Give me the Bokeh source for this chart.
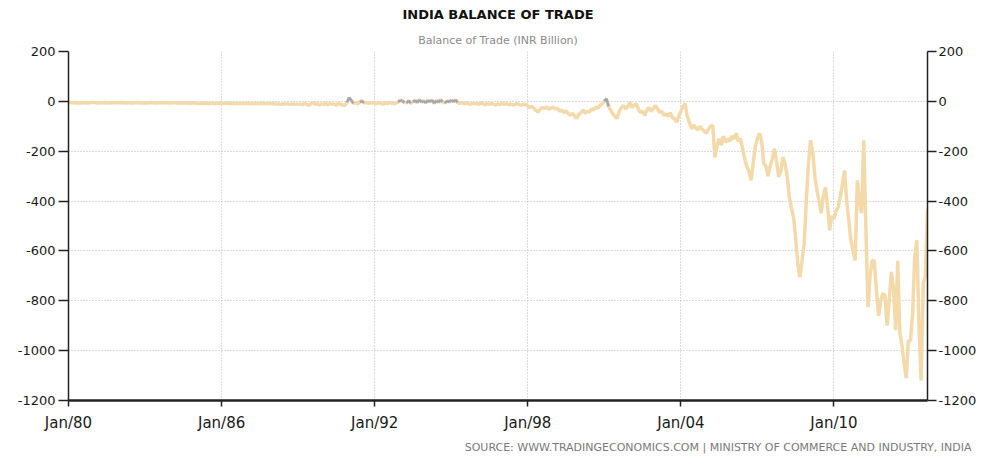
from bokeh.plotting import figure
from bokeh.models import LinearAxis, FixedTicker, Title, Range1d, ColumnDataSource
from bokeh.embed import file_html
from bokeh.resources import INLINE

# ---------------- data (monthly, INR billion, starting Jan 1980) ----------------
start_year = 1980

balance_1980s = [
    -4, -5, -6, -5, -6, -7, -6, -5, -6, -7, -6, -5,
    -5, -6, -7, -6, -6, -5, -6, -7, -6, -6, -5, -6,
    -6, -5, -6, -7, -6, -6, -7, -6, -5, -6, -6, -7,
    -6, -7, -6, -5, -6, -7, -7, -6, -6, -5, -6, -7,
    -7, -6, -6, -7, -8, -6, -7, -6, -7, -8, -7, -6,
    -8, -7, -9, -8, -7, -8, -9, -8, -7, -9, -8, -9,
    -8, -9, -7, -8, -9, -8, -9, -10, -8, -9, -8, -9,
    -9, -8, -10, -9, -8, -10, -9, -8, -9, -10, -9, -8,
    -10, -9, -11, -10, -12, -10, -11, -9, -12, -10, -11, -12,
    -12, -10, -14, -8, -13, -16, -10, -5, -12, -8, -15, -10,
]
balance_1990s = [
    -12, -8, -15, -6, -12, -10, -16, -8, -12, -15, -16, -4,
    15, 4, -8, -5, -10, -3, 2, -6, -4, -8, -5, -7,
    -6, -10, -5, -8, -12, -6, -9, -4, -7, -10, -6, -3,
    5, 2, -4, -6, 3, -8, -2, 4, -5, 6, -3, 2,
    -6, 4, -2, 5, -8, 3, -4, 6, -2, -7, 2, -3,
    5, -2, 6, -4, -8, -5, -10, -6, -9, -12, -7, -10,
    -8, -12, -6, -10, -14, -9, -12, -8, -11, -15, -10, -13,
    -8, -12, -9, -14, -10, -15, -12, -9, -13, -16, -11, -14,
    -18, -25, -20, -30, -38, -43, -30, -25, -28, -22, -32, -26,
    -23, -30, -28, -40, -35, -45, -38, -50, -55, -48, -60, -69,
]
balance_2000s = [
    -52, -45, -35, -48, -40, -43, -30, -35, -22, -28, -16, -10,
    0, 11, -20, -35, -50, -60, -69, -40, -25, -16, -30, -20,
    -5, -25, -15, -9, -30, -45, -40, -56, -35, -25, -40, -30,
    -16, -30, -45, -40, -56, -50, -60, -45, -65, -70, -83, -60,
    -40, -20, -9, -60, -85, -110, -95, -105, -116, -100, -112, -120,
    -128, -110, -100, -96, -225, -180, -150, -176, -140, -165, -150, -160,
    -140, -150, -128, -160, -150, -188, -230, -260, -280, -317, -250, -180,
    -150, -128, -160, -250, -260, -300, -260, -230, -190, -240, -303, -280,
    -223, -250, -300, -384, -430, -464, -550, -650, -705, -640, -570, -400,
    -250, -156, -200, -300, -357, -400, -449, -380, -344, -420, -517, -460,
]
balance_2010s = [
    -470, -440, -424, -380, -330, -277, -400, -477, -560, -600, -638, -317,
    -400, -449, -156, -500, -825, -700, -638, -640, -760, -860, -800, -770,
    -780, -900, -800, -684, -750, -918, -640, -930, -980, -1050, -1110, -960,
    -960, -850, -620, -557, -900, -1120, -730, -700, -430,
]

x_ticks = [1980, 1986, 1992, 1998, 2004, 2010]
x_tick_labels = ["Jan/80", "Jan/86", "Jan/92", "Jan/98", "Jan/04", "Jan/10"]
y_ticks = [-1200, -1000, -800, -600, -400, -200, 0, 200]
y_tick_labels = ["-1200", "-1000", "-800", "-600", "-400", "-200", "0", "200"]

title_text = "INDIA BALANCE OF TRADE"
subtitle_text = "Balance of Trade (INR Billion)"
source_text = "SOURCE: WWW.TRADINGECONOMICS.COM | MINISTRY OF COMMERCE AND INDUSTRY, INDIA"

# ---------------- build ----------------
values = balance_1980s + balance_1990s + balance_2000s + balance_2010s
xs = [start_year + i / 12 for i in range(len(values))]

# segments touching positive values are drawn grey
gx, gy = [], []
for i in range(len(values) - 1):
    if values[i] > 0 or values[i + 1] > 0:
        gx.append([xs[i], xs[i + 1]])
        gy.append([values[i], values[i + 1]])

FONT = "DejaVu Sans"

p = figure(width=979, height=458, output_backend="svg", toolbar_location=None,
           x_range=Range1d(xs[0], xs[-1]), y_range=Range1d(-1200, 200),
           min_border_left=68, min_border_right=44, min_border_top=51,
           min_border_bottom=58)
p.outline_line_color = None
p.background_fill_color = "white"
p.border_fill_color = "white"

src = ColumnDataSource(dict(x=xs, y=values))
p.line("x", "y", source=src, line_color="#F4DAAA", line_width=3.5)
p.multi_line(gx, gy, line_color="#A3A6B8", line_width=2.5)

# axes
y_overrides = {t: l for t, l in zip(y_ticks, y_tick_labels)}
p.xaxis.ticker = FixedTicker(ticks=x_ticks)
p.xaxis.major_label_overrides = {t: l for t, l in zip(x_ticks, x_tick_labels)}
p.yaxis.ticker = FixedTicker(ticks=y_ticks)
p.yaxis.major_label_overrides = y_overrides

right = LinearAxis(ticker=FixedTicker(ticks=y_ticks))
right.major_label_overrides = y_overrides
p.add_layout(right, "right")

for ax in [p.xaxis[0], p.yaxis[0], right]:
    ax.axis_line_color = "#222222"
    ax.axis_line_width = 1.5
    ax.major_tick_line_color = "#222222"
    ax.major_tick_line_width = 1.5
    ax.major_tick_in = 0
    ax.minor_tick_line_color = None
    ax.major_label_text_font = FONT
    ax.major_label_text_color = "#1a1a1a"

p.yaxis[0].major_tick_out = 10
p.yaxis[0].major_label_text_font_size = "13px"
p.yaxis[0].major_label_standoff = 3
right.major_tick_out = 9
right.major_label_text_font_size = "13px"
right.major_label_standoff = 2
p.xaxis[0].major_tick_out = 6
p.xaxis[0].axis_line_width = 2.5
p.xaxis[0].major_label_text_font_size = "15px"
p.xaxis[0].major_label_standoff = 7

# grids
p.xgrid.ticker = FixedTicker(ticks=x_ticks)
p.ygrid.ticker = FixedTicker(ticks=y_ticks)
for g in [p.xgrid[0], p.ygrid[0]]:
    g.grid_line_color = "#b8b8b8"
    g.grid_line_dash = "1 2"
    g.grid_line_width = 1

# titles
p.add_layout(Title(text=subtitle_text, align="center", text_font=FONT,
                   text_font_size="11px", text_font_style="normal",
                   text_color="#8a8a8a", standoff=10), "above")
p.add_layout(Title(text=title_text, align="center", text_font=FONT,
                   text_font_size="13px", text_font_style="bold",
                   text_color="#111111", standoff=9), "above")
p.add_layout(Title(text=source_text, align="right", text_font=FONT,
                   text_font_size="11px", text_font_style="normal",
                   text_color="#7a7a7a", standoff=9, offset=-44), "below")

open("out.html", "w").write(file_html(p, INLINE))
